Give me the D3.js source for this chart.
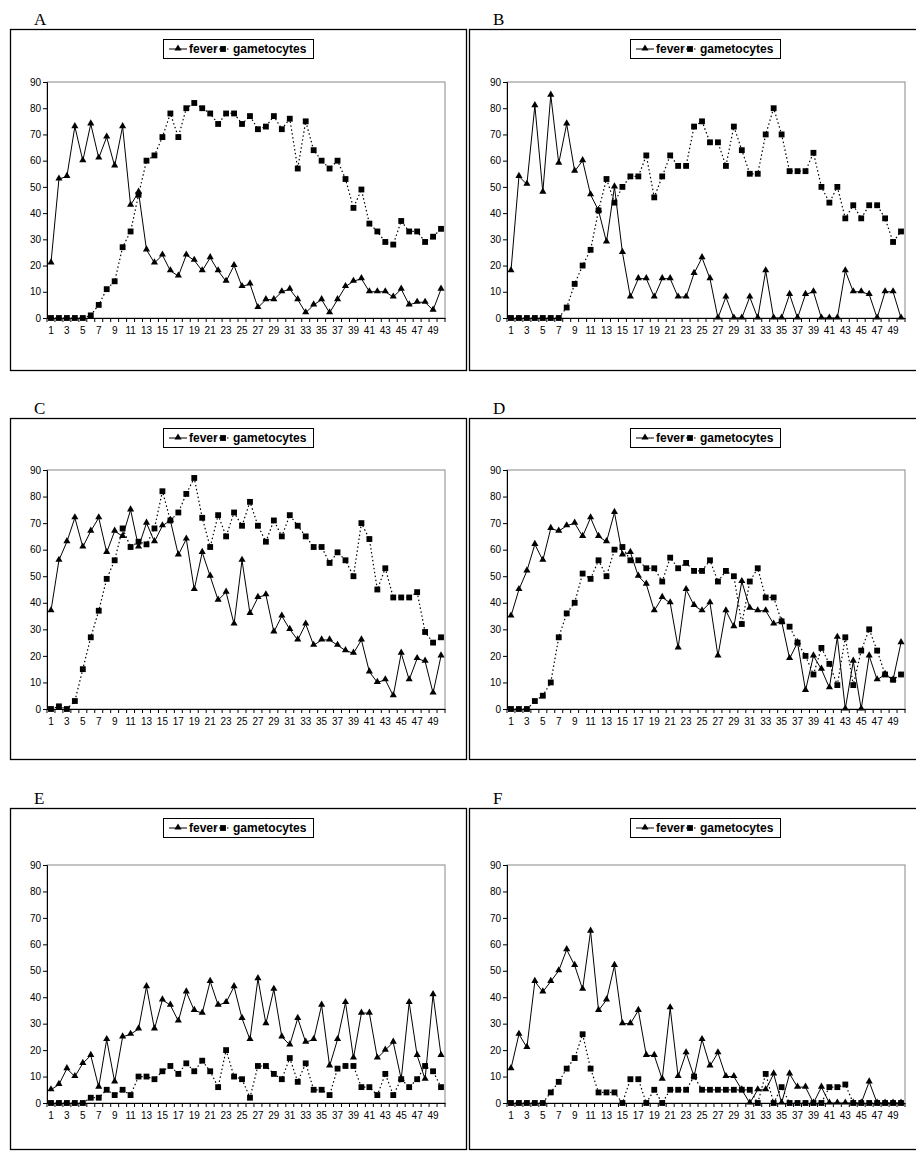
<!DOCTYPE html>
<html>
<head>
<meta charset="utf-8">
<script src="https://cdn.jsdelivr.net/npm/d3@7"></script>
<style>
  body { margin: 0; background: #fff; }
  text { font-family: "Liberation Sans", Arial, sans-serif; }
</style>
</head>
<body>
<script>
// days on the x axis, y tick values
const days = d3.range(1, 51);
const yTicks = [0, 10, 20, 30, 40, 50, 60, 70, 80, 90];
const seriesNames = ["fever", "gametocytes"];

// panel A
const feverA = [21,53,54,73,60,74,61,69,58,73,43,48,26,21,24,18,16,24,22,18,23,18,14,20,12,13,4,7,7,10,11,7,2,5,7,2,7,12,14,15,10,10,10,8,11,5,6,6,3,11];
const gamA   = [0,0,0,0,0,1,5,11,14,27,33,47,60,62,69,78,69,80,82,80,78,74,78,78,74,77,72,73,77,72,76,57,75,64,60,57,60,53,42,49,36,33,29,28,37,33,33,29,31,34];
// panel B
const feverB = [18,54,51,81,48,85,59,74,56,60,47,41,29,50,25,8,15,15,8,15,15,8,8,17,23,15,0,8,0,0,8,0,18,0,0,9,0,9,10,0,0,0,18,10,10,9,0,10,10,0];
const gamB   = [0,0,0,0,0,0,0,4,13,20,26,41,53,44,50,54,54,62,46,54,62,58,58,73,75,67,67,58,73,64,55,55,70,80,70,56,56,56,63,50,44,50,38,43,38,43,43,38,29,33];
// panel C
const feverC = [37,56,63,72,61,67,72,59,67,65,75,61,70,63,69,71,58,64,45,59,50,41,44,32,56,36,42,43,29,35,30,26,32,24,26,26,24,22,21,26,14,10,11,5,21,11,19,18,6,20];
const gamC   = [0,1,0,3,15,27,37,49,56,68,61,63,62,68,82,71,74,81,87,72,61,73,65,74,69,78,69,63,71,65,73,69,65,61,61,55,59,56,50,70,64,45,53,42,42,42,44,29,25,27];
// panel D
const feverD = [35,45,52,62,56,68,67,69,70,65,72,65,63,74,58,59,50,47,37,42,40,23,45,39,37,40,20,37,31,48,38,37,37,32,33,19,25,7,20,15,8,27,0,18,0,20,11,13,11,25];
const gamD   = [0,0,0,3,5,10,27,36,40,51,49,56,50,60,61,56,56,53,53,48,57,53,55,52,52,56,48,52,50,32,48,53,42,42,33,31,25,20,13,23,17,9,27,9,22,30,22,13,11,13];
// panel E
const feverE = [5,7,13,10,15,18,6,24,8,25,26,28,44,28,39,37,31,42,35,34,46,37,38,44,32,24,47,30,43,25,22,32,23,24,37,14,24,38,17,34,34,17,20,23,9,38,18,9,41,18];
const gamE   = [0,0,0,0,0,2,2,5,3,5,3,10,10,9,12,14,11,15,12,16,12,6,20,10,9,2,14,14,11,9,17,8,15,5,5,3,13,14,14,6,6,3,11,3,9,6,9,14,12,6];
// panel F
const feverF = [13,26,21,46,42,46,50,58,52,43,65,35,39,52,30,30,35,18,18,9,36,10,19,10,24,14,19,10,10,5,0,5,5,11,0,11,6,6,0,6,0,0,0,0,0,8,0,0,0,0];
const gamF   = [0,0,0,0,0,4,8,13,17,26,13,4,4,4,0,9,9,0,5,0,5,5,5,10,5,5,5,5,5,5,5,0,11,0,6,0,0,0,0,0,6,6,7,0,0,0,0,0,0,0];

const width = 916, height = 1157;

const svg = d3.select("body").append("svg")
  .attr("width", width)
  .attr("height", height);

// panel layout
const frameLeft = [10, 469];
const plotLeft = [47, 507];
const frameTop = [29, 418, 808];
const plotTop = [82, 470, 865];
const plotH = [236, 239, 238];
const plotW = 398;
const legendLeft = [163, 630];
const legendTop = [39, 428, 818];

const panels = [
  { letter: "A", fever: feverA, gam: gamA, col: 0, row: 0 },
  { letter: "B", fever: feverB, gam: gamB, col: 1, row: 0 },
  { letter: "C", fever: feverC, gam: gamC, col: 0, row: 1 },
  { letter: "D", fever: feverD, gam: gamD, col: 1, row: 1 },
  { letter: "E", fever: feverE, gam: gamE, col: 0, row: 2 },
  { letter: "F", fever: feverF, gam: gamF, col: 1, row: 2 }
];

const triangle = d3.symbol().type(d3.symbolTriangle).size(22);
const square = d3.symbol().type(d3.symbolSquare).size(34);

panels.forEach(function(p) {
  const g = svg.append("g");
  const fl = frameLeft[p.col], ft = frameTop[p.row];
  const pl = plotLeft[p.col], pt = plotTop[p.row], ph = plotH[p.row];

  // outer frame
  g.append("rect")
    .attr("x", fl + 0.5).attr("y", ft + 0.5)
    .attr("width", p.col === 0 ? 456 : 452).attr("height", 341)
    .attr("fill", "none").attr("stroke", "#000").attr("stroke-width", 1.3);

  // panel letter
  g.append("text")
    .attr("x", fl + 24).attr("y", ft - 4)
    .style("font-family", "'Liberation Serif', 'Times New Roman', serif")
    .style("font-size", "17px")
    .text(p.letter);

  const x = d3.scaleBand().domain(days).range([pl, pl + plotW]);
  const y = d3.scaleLinear().domain([0, 90]).range([pt + ph, pt]);
  const bw = x.bandwidth();

  // plot area border
  g.append("rect")
    .attr("x", pl).attr("y", pt)
    .attr("width", plotW).attr("height", ph)
    .attr("fill", "none").attr("stroke", "#888").attr("stroke-width", 1);

  // y axis
  const ya = g.append("g")
    .attr("transform", "translate(" + pl + ",0)")
    .call(d3.axisLeft(y).tickValues(yTicks).tickSize(4).tickPadding(2));
  ya.select(".domain").attr("stroke", "#000");
  ya.selectAll("text").style("font-size", "10px").style("font-family", "'Liberation Sans', Arial, sans-serif");

  // x axis: labels on odd days, ticks between categories
  const xa = g.append("g")
    .attr("transform", "translate(0," + (pt + ph) + ")")
    .call(d3.axisBottom(x).tickSize(0).tickPadding(9)
      .tickFormat(function(d) { return d % 2 === 1 ? d : ""; }));
  xa.select(".domain").attr("stroke", "#000");
  xa.selectAll("text").style("font-size", "10px").style("font-family", "'Liberation Sans', Arial, sans-serif");
  g.append("g").selectAll("line")
    .data(days.concat([51]))
    .enter().append("line")
    .attr("x1", function(d) { return d <= 50 ? x(d) : x(50) + bw; })
    .attr("x2", function(d) { return d <= 50 ? x(d) : x(50) + bw; })
    .attr("y1", pt + ph).attr("y2", pt + ph + 4)
    .attr("stroke", "#000");

  const feverPts = p.fever.map(function(v, i) { return { day: days[i], v: v }; });
  const gamPts = p.gam.map(function(v, i) { return { day: days[i], v: v }; });

  const line = d3.line()
    .x(function(d) { return x(d.day) + bw / 2; })
    .y(function(d) { return y(d.v); });

  // gametocytes: dotted line + squares
  g.append("path").datum(gamPts)
    .attr("d", line).attr("fill", "none")
    .attr("stroke", "#000").attr("stroke-width", 1.2)
    .attr("stroke-dasharray", "1.5,2.5");
  g.append("g").selectAll("path")
    .data(gamPts).enter().append("path")
    .attr("d", square)
    .attr("transform", function(d) { return "translate(" + (x(d.day) + bw / 2) + "," + y(d.v) + ")"; })
    .attr("fill", "#000");

  // fever: solid line + triangles
  g.append("path").datum(feverPts)
    .attr("d", line).attr("fill", "none")
    .attr("stroke", "#000").attr("stroke-width", 1);
  g.append("g").selectAll("path")
    .data(feverPts).enter().append("path")
    .attr("d", triangle)
    .attr("transform", function(d) { return "translate(" + (x(d.day) + bw / 2) + "," + (y(d.v) - 0.5) + ")"; })
    .attr("fill", "#000");

  // legend
  const lx = legendLeft[p.col], ly = legendTop[p.row];
  const lg = g.append("g");
  lg.append("rect")
    .attr("x", lx + 0.5).attr("y", ly + 0.5)
    .attr("width", 150).attr("height", 19)
    .attr("fill", "#fff").attr("stroke", "#000").attr("stroke-width", 1);
  lg.append("line")
    .attr("x1", lx + 6).attr("x2", lx + 24)
    .attr("y1", ly + 10).attr("y2", ly + 10)
    .attr("stroke", "#000");
  lg.append("path").attr("d", triangle)
    .attr("transform", "translate(" + (lx + 15) + "," + (ly + 9.5) + ")");
  lg.append("text")
    .attr("x", lx + 26).attr("y", ly + 14)
    .style("font-family", "'Liberation Sans Narrow', 'Liberation Sans', Arial, sans-serif")
    .style("font-weight", "bold").style("font-size", "12px")
    .text(seriesNames[0]);
  lg.append("line")
    .attr("x1", lx + 52).attr("x2", lx + 68)
    .attr("y1", ly + 10).attr("y2", ly + 10)
    .attr("stroke", "#000").attr("stroke-width", 1.2)
    .attr("stroke-dasharray", "1.5,2.5");
  lg.append("path").attr("d", square)
    .attr("transform", "translate(" + (lx + 60) + "," + (ly + 10) + ")");
  lg.append("text")
    .attr("x", lx + 70).attr("y", ly + 14)
    .style("font-family", "'Liberation Sans Narrow', 'Liberation Sans', Arial, sans-serif")
    .style("font-weight", "bold").style("font-size", "12px")
    .text(seriesNames[1]);
});
</script>
</body>
</html>
